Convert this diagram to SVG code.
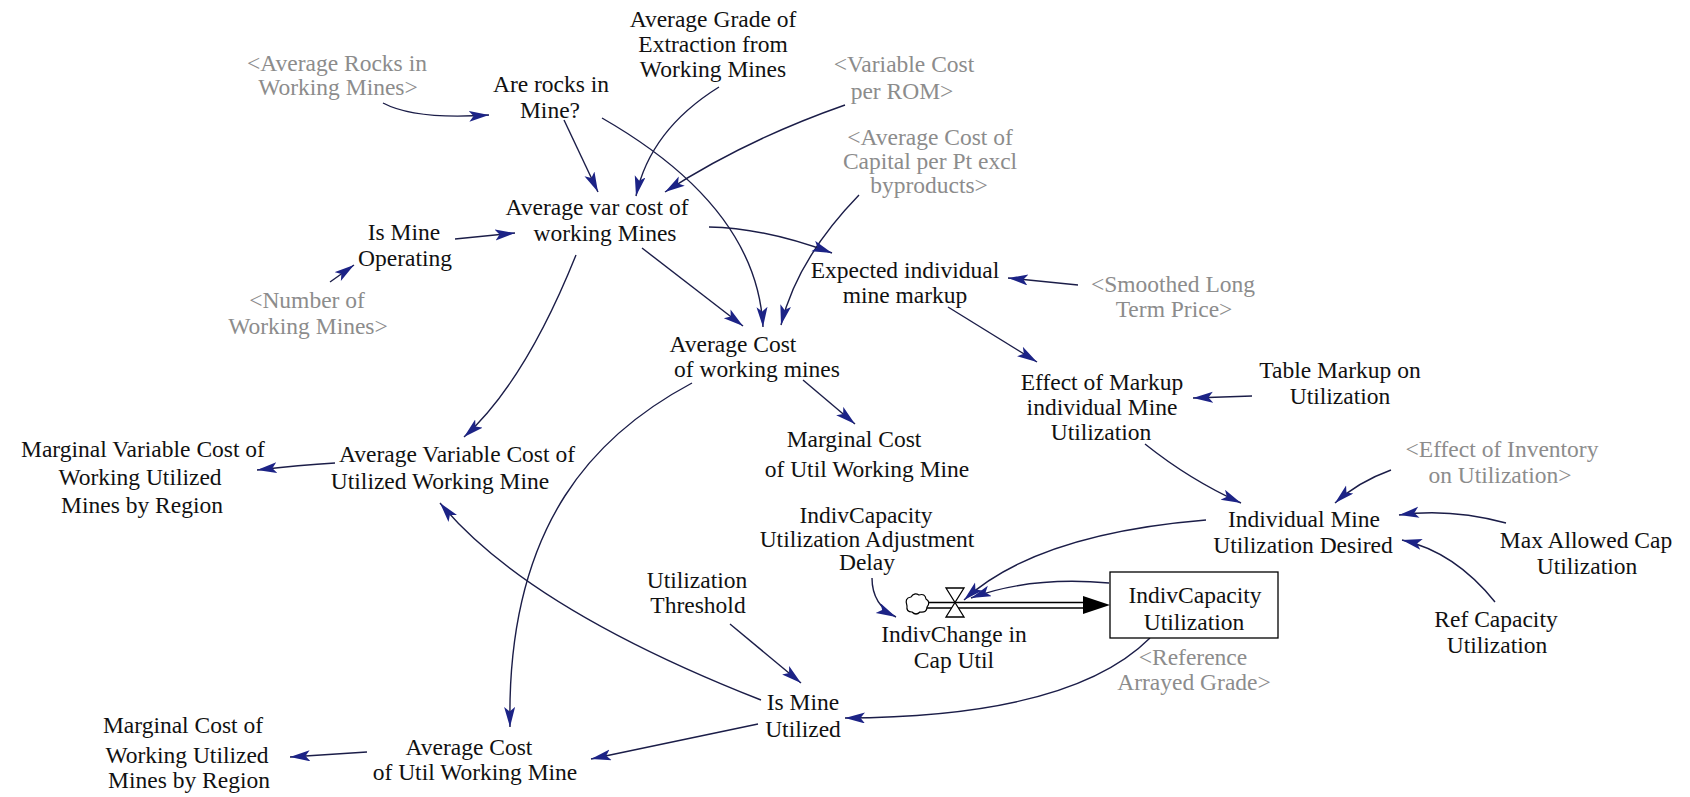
<svg xmlns="http://www.w3.org/2000/svg" width="1690" height="797" viewBox="0 0 1690 797">
<defs>
<marker id="ah" markerUnits="userSpaceOnUse" markerWidth="24" markerHeight="14" refX="20" refY="5.5" orient="auto">
<path d="M0,0 L20,5.5 L0,11 L4.5,5.5 z" fill="#1c2386"/>
</marker>
</defs>
<style>
text{font-family:"Liberation Serif","Times New Roman",serif;font-size:23.5px;text-anchor:middle;fill:#111}
.g text{fill:#8c8c8c}
.c path{fill:none;stroke:#1b1d48;stroke-width:1.4;marker-end:url(#ah)}
</style>
<rect width="1690" height="797" fill="#fff"/>
<g class="c" id="connectors">
<path d="M383,103 Q415,120 489,115"/>
<path d="M564,120 L598,192"/>
<path d="M719,87 Q650,130 636,196"/>
<path d="M845,105 Q745,140 665,192"/>
<path d="M455,239 L515,233"/>
<path d="M330,282 L354,265"/>
<path d="M602,118 Q757,207 763,327"/>
<path d="M859,195 Q797,259 781,325"/>
<path d="M642,248 L743,326"/>
<path d="M709,227 Q765,228 832,253"/>
<path d="M1078,285 L1008,278"/>
<path d="M948,307 L1037,362"/>
<path d="M1252,396 L1193,398"/>
<path d="M803,380 L855,424"/>
<path d="M1145,444 Q1190,480 1241,503"/>
<path d="M1391,470 Q1358,482 1335,503"/>
<path d="M1506,523 Q1450,508 1399,515"/>
<path d="M1495,602 Q1455,552 1402,540"/>
<path d="M1206,520 Q1036,534 964,600"/>
<path d="M1109,583 Q1030,576 971,598"/>
<path d="M872,578 Q872,605 896,617"/>
<path d="M730,624 L801,683"/>
<path d="M1150,638 Q1071,717 845,718"/>
<path d="M761,700 Q527,608 440,503"/>
<path d="M692,383 C600,432 506,520 510,727"/>
<path d="M576,255 Q525,382 464,437"/>
<path d="M335,463 Q300,465 257,470"/>
<path d="M367,752 L290,757"/>
<path d="M758,724 L591,759"/>
</g>
<g id="flow">
<line x1="926" y1="602.5" x2="1086" y2="602.5" stroke="#000" stroke-width="1.3"/>
<line x1="926" y1="608" x2="1086" y2="608" stroke="#000" stroke-width="1.3"/>
<path d="M1083,596 L1110,605 L1083,614 z" fill="#000"/>
<path d="M907,606 q-3,-8 4,-9 q3,-5 8,-2 q6,-2 7,4 q5,3 1,8 q0,6 -7,5 q-4,4 -8,0 q-6,0 -5,-6 z" fill="#fff" stroke="#000" stroke-width="1.2"/>
<path d="M946,588 L964,588 L946,617 L964,617 z" fill="#fff" stroke="#000" stroke-width="1.3"/>
</g>
<g id="n1" class="g"><text x="337" y="71">&lt;Average Rocks in</text><text x="338" y="95">Working Mines&gt;</text></g>
<g id="n2"><text x="551" y="92">Are rocks in</text><text x="550" y="118">Mine?</text></g>
<g id="n3"><text x="713" y="27">Average Grade of</text><text x="713" y="52">Extraction from</text><text x="713" y="77">Working Mines</text></g>
<g id="n4" class="g"><text x="904" y="72">&lt;Variable Cost</text><text x="902" y="99">per ROM&gt;</text></g>
<g id="n5" class="g"><text x="930" y="145">&lt;Average Cost of</text><text x="930" y="169">Capital per Pt excl</text><text x="929" y="193">byproducts&gt;</text></g>
<g id="n6"><text x="597" y="215">Average var cost of</text><text x="605" y="241">working Mines</text></g>
<g id="n7"><text x="404" y="240">Is Mine</text><text x="405" y="266">Operating</text></g>
<g id="n8" class="g"><text x="307" y="308">&lt;Number of</text><text x="308" y="334">Working Mines&gt;</text></g>
<g id="n9"><text x="905" y="278">Expected individual</text><text x="905" y="303">mine markup</text></g>
<g id="n10" class="g"><text x="1173" y="292">&lt;Smoothed Long</text><text x="1174" y="317">Term Price&gt;</text></g>
<g id="n11"><text x="733" y="352">Average Cost</text><text x="757" y="377">of working mines</text></g>
<g id="n12"><text x="1102" y="390">Effect of Markup</text><text x="1102" y="415">individual Mine</text><text x="1101" y="440">Utilization</text></g>
<g id="n13"><text x="1340" y="378">Table Markup on</text><text x="1340" y="404">Utilization</text></g>
<g id="n14"><text x="143" y="457">Marginal Variable Cost of</text><text x="140" y="485">Working Utilized</text><text x="142" y="513">Mines by Region</text></g>
<g id="n15"><text x="457" y="462">Average Variable Cost of</text><text x="440" y="489">Utilized Working Mine</text></g>
<g id="n16"><text x="854" y="447">Marginal Cost</text><text x="867" y="477">of Util Working Mine</text></g>
<g id="n17" class="g"><text x="1502" y="457">&lt;Effect of Inventory</text><text x="1500" y="483">on Utilization&gt;</text></g>
<g id="n18"><text x="1304" y="527">Individual Mine</text><text x="1303" y="553">Utilization Desired</text></g>
<g id="n19"><text x="1586" y="548">Max Allowed Cap</text><text x="1587" y="574">Utilization</text></g>
<g id="n20"><text x="866" y="523">IndivCapacity</text><text x="867" y="547">Utilization Adjustment</text><text x="867" y="570">Delay</text></g>
<g id="n21"><text x="697" y="588">Utilization</text><text x="698" y="613">Threshold</text></g>
<g id="n22"><rect x="1110" y="572" width="168" height="66" fill="#fff" stroke="#000" stroke-width="1.3"/><text x="1195" y="603">IndivCapacity</text><text x="1194" y="630">Utilization</text></g>
<g id="n23"><text x="954" y="642">IndivChange in</text><text x="954" y="668">Cap Util</text></g>
<g id="n24"><text x="1496" y="627">Ref Capacity</text><text x="1497" y="653">Utilization</text></g>
<g id="n25" class="g"><text x="1193" y="665">&lt;Reference</text><text x="1194" y="690">Arrayed Grade&gt;</text></g>
<g id="n26"><text x="803" y="710">Is Mine</text><text x="803" y="737">Utilized</text></g>
<g id="n27"><text x="183" y="733">Marginal Cost of</text><text x="187" y="763">Working Utilized</text><text x="189" y="788">Mines by Region</text></g>
<g id="n28"><text x="469" y="755">Average Cost</text><text x="475" y="780">of Util Working Mine</text></g>
</svg>
